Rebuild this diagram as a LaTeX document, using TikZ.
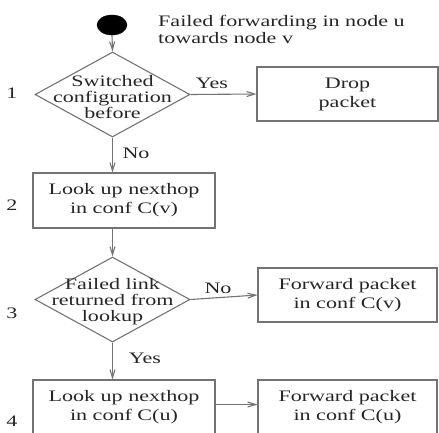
\documentclass[tikz,border=0pt]{standalone}
\usepackage{fontspec}
\setmainfont{Liberation Serif}[FakeStretch=1.38]
\usetikzlibrary{shapes.geometric,arrows.meta}
\begin{document}
\begin{tikzpicture}[x=1pt,y=-1pt,
  every node/.style={font=\fontsize{16}{19}\selectfont, text=black!85},
  ln/.style={draw=black!55, line width=1.1pt},
  arr/.style={ln, -{Straight Barb[length=8pt,width=5pt]}},
  box/.style={ln, rectangle, inner sep=0pt, align=center},
  dec/.style={ln, diamond, inner sep=0pt, minimum width=155pt, minimum height=85pt},
  dectext/.style={align=center, inner sep=0pt, font=\fontsize{16}{16}\selectfont},
  lbl/.style={inner sep=0pt}]
\useasboundingbox (0,0) rectangle (439,432);
\clip (0,0) rectangle (439,432);

% start
\node[fill=black, draw=black, ellipse, minimum width=30pt, minimum height=20pt, inner sep=0pt] (start) at (112,25) {};
\node[lbl, anchor=west, align=left, font=\fontsize{16}{17}\selectfont] (cap) at (158,29) {Failed forwarding in node u\\towards node v};

% decision 1
\node[dec] (d1) at (112.5,94.5) {};
\node[dectext] (d1t) at (112.5,97) {Switched\\configuration\\before};
\node[box, minimum width=181pt, minimum height=54pt] (drop) at (347.5,94) {Drop\\packet};

% step 2
\node[box, minimum width=182pt, minimum height=55pt] (b2) at (124,200.5) {Look up nexthop\\in conf C(v)};

% decision 3
\node[dec] (d3) at (112.5,299.5) {};
\node[dectext] (d3t) at (112.5,302) {Failed link\\returned from\\lookup};
\node[box, minimum width=179pt, minimum height=54pt] (fv) at (347.5,295) {Forward packet\\in conf C(v)};

% step 4
\node[box, minimum width=182pt, minimum height=55pt] (b4) at (124,407.5) {Look up nexthop\\in conf C(u)};
\node[box, minimum width=179pt, minimum height=55pt] (fu) at (347.5,407.5) {Forward packet\\in conf C(u)};

% connectors
\draw[arr] (start.south) -- (d1.north);
\draw[arr] (d1.east) -- (drop.west);
\draw[arr] (d1.south) -- (d1.south |- b2.north);
\draw[arr] (d1.south |- b2.south) -- (d3.north);
\draw[arr] (d3.east) -- (fv.west);
\draw[arr] (d3.south) -- (d3.south |- b4.north);
\draw[arr] ([yshift=3pt]b4.east) -- ([yshift=3pt]fu.west);

% edge labels
\node[lbl] (yes1) at (212,83) {Yes};
\node[lbl] (no1) at (136,153) {No};
\node[lbl] (no3) at (218,288) {No};
\node[lbl] (yes3) at (145,358) {Yes};

% step numbers
\node[lbl] (n1) at (12,93) {1};
\node[lbl] (n2) at (12,205) {2};
\node[lbl] (n3) at (12,313) {3};
\node[lbl] (n4) at (12,421) {4};
\end{tikzpicture}
\end{document}
